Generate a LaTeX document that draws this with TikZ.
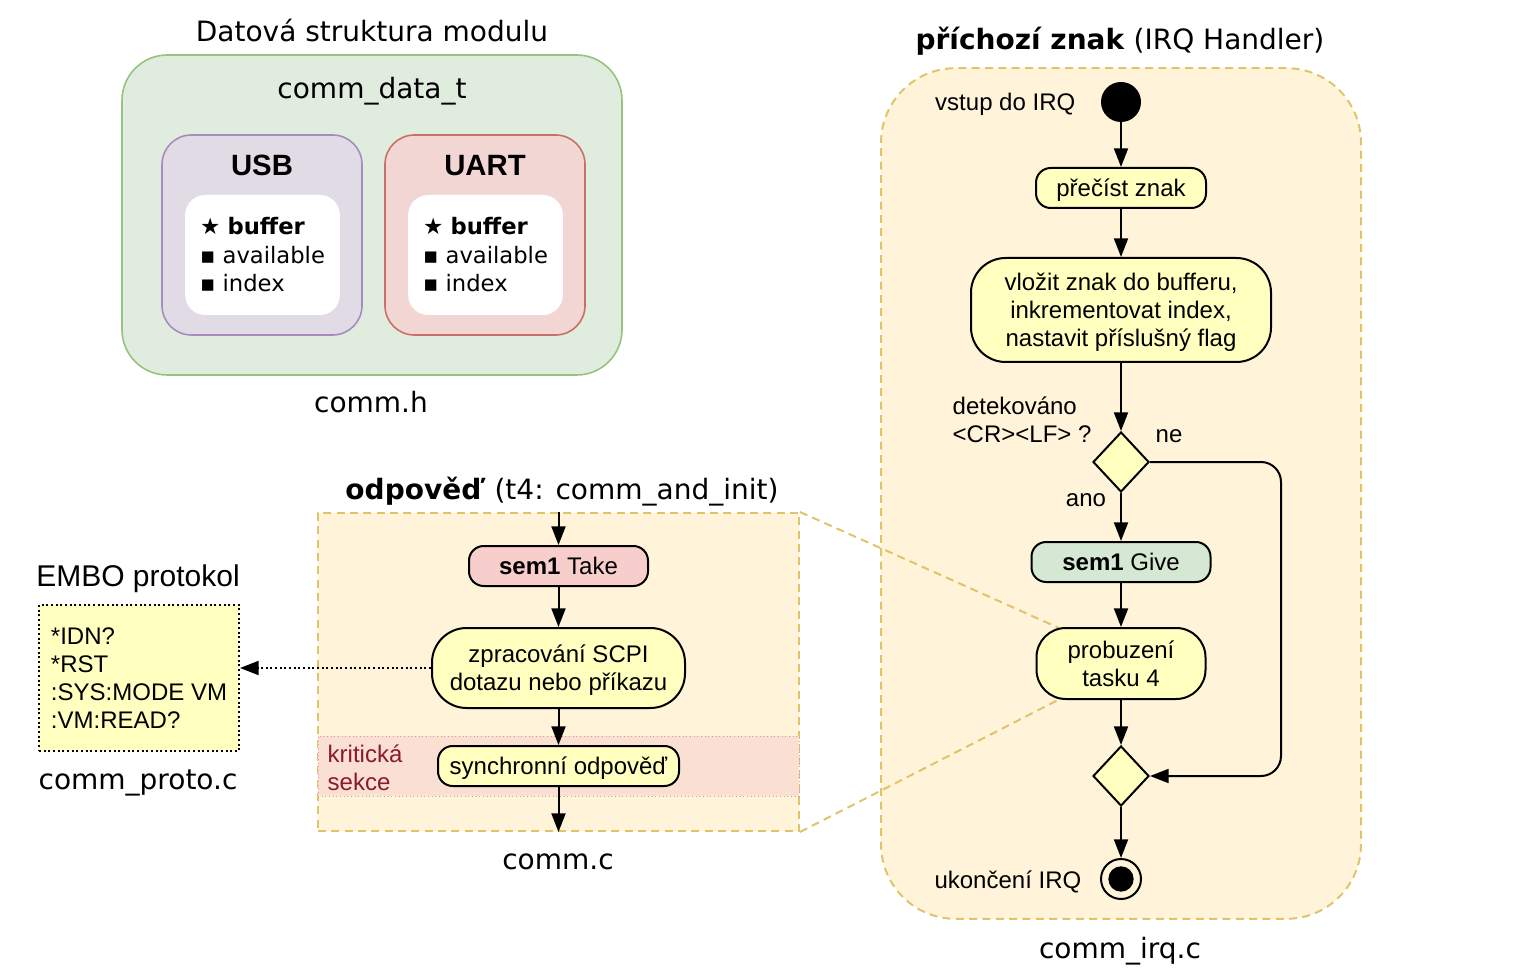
\documentclass[tikz,border=0pt]{standalone}
\usepackage{fontspec}
\setmainfont{Liberation Sans}
\newfontfamily\dvsans{DejaVu Sans}
\usetikzlibrary{arrows.meta}
\usetikzlibrary{shapes.geometric}

\definecolor{actfill}{RGB}{255,255,192}
\definecolor{contfill}{RGB}{255,244,217}
\definecolor{contline}{RGB}{224,196,108}
\definecolor{datafill}{RGB}{224,237,222}
\definecolor{dataline}{RGB}{150,196,128}
\definecolor{usbfill}{RGB}{225,219,230}
\definecolor{usbline}{RGB}{166,140,190}
\definecolor{uartfill}{RGB}{242,214,211}
\definecolor{uartline}{RGB}{200,112,104}
\definecolor{critfill}{RGB}{250,223,211}
\definecolor{critline}{RGB}{217,154,148}
\definecolor{crittext}{RGB}{139,26,42}
\definecolor{givefill}{RGB}{213,232,212}
\definecolor{takefill}{RGB}{248,206,204}

\begin{document}
\begin{tikzpicture}[x=0.75pt,y=-0.75pt,
	lbl/.style={font=\dvsans\fontsize{21pt}{26pt}\selectfont,text depth=0pt},
	txt/.style={font=\fontsize{18pt}{21pt}\selectfont,text depth=0pt},
	act/.style={draw,line width=1.5pt,fill=actfill,align=center,inner sep=0pt,text depth=0pt,font=\fontsize{18pt}{21pt}\selectfont},
	flow/.style={line width=1.5pt,-{Triangle[length=14pt,width=10.5pt]}},
	cont/.style={fill=contfill,draw=contline,line width=1.5pt,dash pattern=on 6pt off 4pt}]
		\useasboundingbox (0,0) rectangle (1520,980);
		
		% datova struktura
		\node[lbl](DSTITLE) at (372,30) {Datová struktura modulu};
		\node[draw=dataline,fill=datafill,line width=1.2pt,rounded corners=34pt,minimum width=375pt,minimum height=240pt](DATA) at (372,215) {};
		\node[lbl](DATANAME) at (372,88) {comm\_data\_t};
		\node[draw=usbline,fill=usbfill,line width=1.2pt,rounded corners=22pt,minimum width=150pt,minimum height=150pt](USB) at (262,235) {};
		\node[draw=uartline,fill=uartfill,line width=1.2pt,rounded corners=22pt,minimum width=150pt,minimum height=150pt](UART) at (485,235) {};
		\node[font=\bfseries\fontsize{22pt}{26pt}\selectfont,text depth=0pt](USBT) at (262,165) {USB};
		\node[font=\bfseries\fontsize{22pt}{26pt}\selectfont,text depth=0pt](UARTT) at (485,165) {UART};
		\node[fill=white,rounded corners=15pt,minimum width=116pt,minimum height=90pt,align=left,font=\dvsans\fontsize{17pt}{21.4pt}\selectfont](USBL) at (262.5,255) {★ \textbf{buffer}\\▪ available\\▪ index};
		\node[fill=white,rounded corners=15pt,minimum width=116pt,minimum height=90pt,align=left,font=\dvsans\fontsize{17pt}{21.4pt}\selectfont](UARTL) at (485.5,255) {★ \textbf{buffer}\\▪ available\\▪ index};
		\node[lbl](DATAFILE) at (371,402) {comm.h};
		
		% IRQ handler
		\node[lbl](IRQTITLE) at (1120,38) {\textbf{příchozí znak} (IRQ Handler)};
		\node[cont,rounded corners=56pt,minimum width=360pt,minimum height=638pt](IRQ) at (1121,493.5) {};
		\node[lbl](IRQFILE) at (1120,948) {comm\_irq.c};
		
		% odpoved
		\node[lbl](RESPTITLE) at (562,488) {\textbf{odpověď} (t4: comm\_and\_init)};
		\node[cont,minimum width=360.75pt,minimum height=238.5pt](RESP) at (558.5,672) {};
		\node[fill=critfill,draw=critline,dotted,line width=0.75pt,minimum width=360.75pt,minimum height=45pt](CRIT) at (558.5,766) {};
		\node[txt,text=crittext,align=left,anchor=west](CRITL) at (323,768) {kritická\\sekce};
		\node[lbl](RESPFILE) at (558,862) {comm.c};
		
		% zoom lines
		\coordinate (WAKETOP) at (1059,628);
		\coordinate (WAKEBOT) at (1060,699);
		\draw[contline,line width=1.5pt,dash pattern=on 6pt off 4pt] (RESP.north east) -- (WAKETOP);
		\draw[contline,line width=1.5pt,dash pattern=on 6pt off 4pt] (RESP.south east) -- (WAKEBOT);
		
		% flow IRQ
		\node[circle,fill=black,minimum size=30pt,inner sep=0pt](START) at (1121,102) {};
		\node[txt,anchor=east](STARTL) at (1080,102) {vstup do IRQ};
		\node[act,rounded corners=11pt,minimum width=127.5pt,minimum height=30pt](READ) at (1121,188) {přečíst znak};
		\node[act,rounded corners=26pt,minimum width=225pt,minimum height=78pt](STORE) at (1121,310) {vložit znak do bufferu,\\inkrementovat index,\\nastavit příslušný flag};
		\node[diamond,draw,line width=1.5pt,fill=actfill,minimum width=42pt,minimum height=45pt,inner sep=0pt](DEC) at (1121,462) {};
		\node[txt,anchor=west,align=left](DECL) at (948,420) {detekováno\\<CR><LF> ?};
		\node[txt](NO) at (1169,436) {ne};
		\node[txt](YES) at (1086,500) {ano};
		\node[act,fill=givefill,rounded corners=11pt,minimum width=134.25pt,minimum height=30pt](GIVE) at (1121,562) {\textbf{sem1} Give};
		\node[act,rounded corners=22pt,minimum width=126.75pt,minimum height=53.25pt](WAKE) at (1121,663.5) {probuzení\\tasku 4};
		\node[diamond,draw,line width=1.5pt,fill=actfill,minimum width=42pt,minimum height=45pt,inner sep=0pt](MERGE) at (1121,776) {};
		\node[circle,draw,line width=1.5pt,fill=contfill,minimum size=30pt,inner sep=0pt](END) at (1121,879) {};
		\node[circle,fill=black,minimum size=19pt,inner sep=0pt](ENDDOT) at (END) {};
		\node[txt,anchor=east](ENDL) at (1086,880) {ukončení IRQ};
		\coordinate (RIGHT) at (1281,0);
		
		\draw[flow] (START) -- (READ);
		\draw[flow] (READ) -- (STORE);
		\draw[flow] (STORE) -- (DEC);
		\draw[flow] (DEC) -- (GIVE);
		\draw[flow] (GIVE) -- (WAKE);
		\draw[flow] (WAKE) -- (MERGE);
		\draw[flow,rounded corners=15pt] (DEC.east) -- (DEC.east -| RIGHT) -- (MERGE.east -| RIGHT) -- (MERGE.east);
		\draw[flow] (MERGE) -- (END);
		
		% flow odpoved
		\node[act,fill=takefill,rounded corners=11pt,minimum width=134.25pt,minimum height=30pt](TAKE) at (558.5,566) {\textbf{sem1} Take};
		\node[act,rounded corners=26pt,minimum width=189.75pt,minimum height=60pt](PROC) at (558.5,668) {zpracování SCPI\\dotazu nebo příkazu};
		\node[act,rounded corners=11pt,minimum width=180.75pt,minimum height=30pt](SYNC) at (558.5,766) {synchronní odpověď};
		
		\draw[flow] (RESP.north) -- (TAKE);
		\draw[flow] (TAKE) -- (PROC);
		\draw[flow] (PROC) -- (SYNC);
		\draw[flow] (SYNC) -- (RESP.south);
		
		% EMBO
		\node[txt,font=\fontsize{22.5pt}{26pt}\selectfont](PROTOTITLE) at (138,576) {EMBO protokol};
		\node[draw,dotted,line width=1.5pt,fill=actfill,minimum width=150pt,minimum height=109.5pt,align=left,font=\fontsize{18pt}{21pt}\selectfont](PROTO) at (139,678) {*IDN?\\*RST\\:SYS:MODE VM\\:VM:READ?};
		\node[lbl](PROTOFILE) at (138,780) {comm\_proto.c};
		
		\draw[flow,dotted] (PROC.west) -- (PROC.west -| PROTO.east);
	\end{tikzpicture}
\end{document}
